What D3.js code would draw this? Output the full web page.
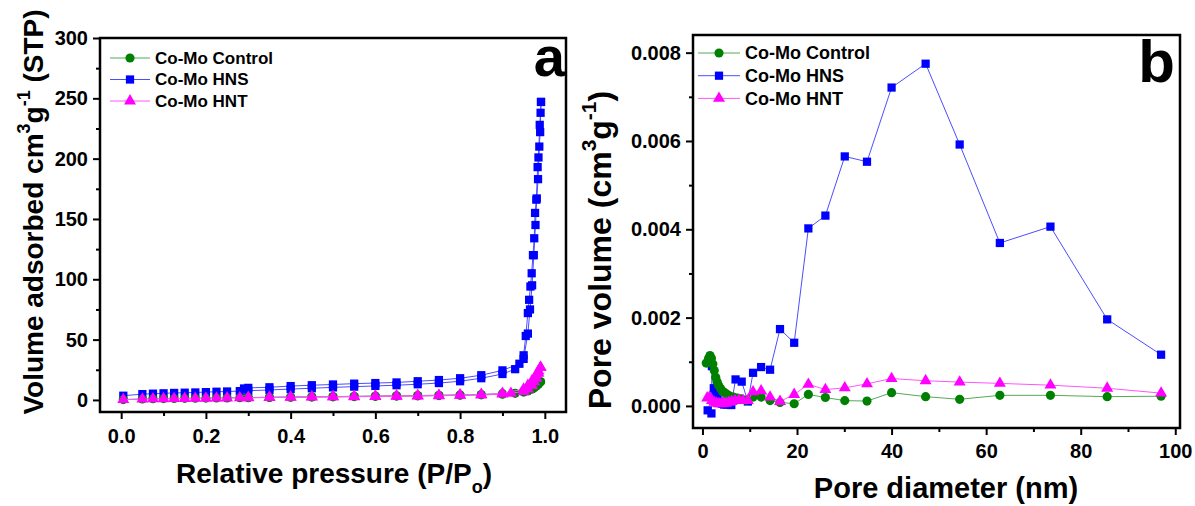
<!DOCTYPE html>
<html>
<head>
<meta charset="utf-8">
<script src="https://cdn.jsdelivr.net/npm/d3@7"></script>
<style>
  body { margin: 0; background: #fff; }
  svg text { font-family: "Liberation Sans", Arial, sans-serif; font-weight: bold; fill: #000; }
</style>
</head>
<body>
<script>
// ---------- Panel a: N2 isotherms ----------
const seriesNames = ["Co-Mo Control", "Co-Mo HNS", "Co-Mo HNT"];

const ctrlAdsP = [0.005, 0.05, 0.075, 0.1, 0.125, 0.15, 0.175, 0.2, 0.225, 0.25, 0.28, 0.3, 0.35, 0.4, 0.45, 0.5, 0.55, 0.6, 0.65, 0.7, 0.75, 0.8, 0.85, 0.9, 0.93, 0.95, 0.96, 0.97, 0.975, 0.98, 0.985, 0.99];
const ctrlAdsV = [0.3, 0.8, 1.0, 1.1, 1.2, 1.3, 1.4, 1.5, 1.6, 1.7, 1.8, 1.9, 2.1, 2.3, 2.5, 2.6, 2.8, 3.0, 3.2, 3.4, 3.6, 3.9, 4.2, 4.8, 5.5, 6.5, 7.5, 9, 10, 11.5, 13, 15];
const ctrlDesP = [0.99, 0.985, 0.98, 0.97, 0.96, 0.95, 0.9, 0.85, 0.8, 0.75, 0.7, 0.65, 0.6, 0.55, 0.5, 0.45, 0.4, 0.35, 0.3];
const ctrlDesV = [15, 14, 13, 11, 9, 7.5, 5.2, 4.5, 4.2, 3.9, 3.6, 3.4, 3.2, 3.0, 2.8, 2.6, 2.4, 2.2, 2.0];

const hnsAdsP = [0.005, 0.05, 0.075, 0.1, 0.125, 0.15, 0.175, 0.2, 0.225, 0.25, 0.28, 0.3, 0.35, 0.4, 0.45, 0.5, 0.55, 0.6, 0.65, 0.7, 0.75, 0.8, 0.85, 0.9, 0.93, 0.95, 0.96, 0.965, 0.97, 0.974, 0.978, 0.981, 0.984, 0.987, 0.989, 0.991];
const hnsAdsV = [3.5, 4.8, 5.2, 5.5, 5.8, 6.0, 6.2, 6.5, 6.8, 7.0, 7.3, 7.6, 8.3, 9.0, 9.7, 10.4, 11.0, 11.6, 12.2, 13.0, 14.0, 15.5, 18.0, 21.5, 25.5, 34, 55, 75, 95, 120, 145, 167, 183, 210, 222, 247];
const hnsDesP = [0.991, 0.99, 0.988, 0.985, 0.983, 0.98, 0.977, 0.975, 0.972, 0.969, 0.966, 0.963, 0.96, 0.955, 0.95, 0.94, 0.9, 0.85, 0.8, 0.75, 0.7, 0.65, 0.6, 0.55, 0.5, 0.45, 0.4, 0.35, 0.3, 0.29];
const hnsDesV = [247, 238, 228, 201, 193, 166, 155, 134, 120, 105, 94, 83, 72, 53, 37, 30, 24.5, 20.5, 18, 16.5, 15.5, 14.5, 14, 13.5, 12.8, 12.2, 11.5, 10.5, 10, 9.5];

const hntAdsP = [0.005, 0.05, 0.075, 0.1, 0.125, 0.15, 0.175, 0.2, 0.225, 0.25, 0.28, 0.3, 0.35, 0.4, 0.45, 0.5, 0.55, 0.6, 0.65, 0.7, 0.75, 0.8, 0.85, 0.9, 0.92, 0.95, 0.96, 0.97, 0.975, 0.98, 0.985, 0.99];
const hntAdsV = [0.3, 0.7, 0.9, 1.0, 1.1, 1.2, 1.3, 1.4, 1.5, 1.6, 1.7, 1.8, 2.0, 2.2, 2.4, 2.5, 2.7, 2.9, 3.1, 3.3, 3.5, 3.8, 4.1, 4.8, 5.5, 7, 9, 12, 15, 18, 22, 27];
const hntDesP = [0.99, 0.985, 0.98, 0.97, 0.96, 0.95, 0.9, 0.85, 0.8, 0.75, 0.7, 0.65, 0.6, 0.55, 0.5, 0.45, 0.4, 0.35, 0.3];
const hntDesV = [27, 24, 21, 16, 12, 9, 5.5, 4.5, 4.1, 3.8, 3.5, 3.3, 3.1, 2.9, 2.7, 2.5, 2.3, 2.1, 1.9];

const aXTicks = [0, 0.2, 0.4, 0.6, 0.8, 1.0];
const aXMinor = [0.1, 0.3, 0.5, 0.7, 0.9];
const aYTicks = [0, 50, 100, 150, 200, 250, 300];
const aYMinor = [25, 75, 125, 175, 225, 275];

// ---------- Panel b: pore size distribution ----------
const ctrlD = [0.8, 1.3, 1.6, 1.9, 2.2, 2.5, 2.8, 3.1, 3.4, 3.8, 4.2, 4.7, 5.2, 5.8, 6.5, 7.3, 8.2, 9.3, 10.7, 12.4, 14.3, 16.4, 19.4, 22.4, 26.0, 30.1, 34.8, 40.0, 47.2, 54.4, 62.9, 73.6, 85.6, 97.0];
const ctrlPV = [0.00097, 0.00108, 0.00114, 0.00108, 0.00095, 0.0008, 0.00065, 0.00055, 0.00047, 0.0004, 0.00034, 0.0003, 0.00026, 0.00022, 0.0002, 0.00018, 0.00016, 0.00013, 0.0002, 0.0002, 0.00012, 0.00008, 0.00005, 0.00026, 0.00019, 0.00012, 0.00011, 0.0003, 0.00021, 0.00015, 0.00024, 0.00024, 0.00021, 0.00022];

const hnsD = [1.1, 1.9, 2.0, 2.4, 2.8, 3.2, 3.6, 4.1, 4.6, 5.2, 6.1, 7.0, 8.3, 9.6, 10.7, 12.4, 14.3, 16.4, 19.4, 22.4, 26.0, 30.1, 34.8, 40.0, 47.2, 54.4, 62.9, 73.6, 85.6, 97.0];
const hnsPV = [-0.0001, -0.00017, 0.0009, 0.0004, 0.00025, 0.00015, 0.0001, 0.00005, 0.00003, 0.00003, 0.00002, 0.0006, 0.00055, 0.0001, 0.00075, 0.00088, 0.00082, 0.00174, 0.00143, 0.00402, 0.00431, 0.00565, 0.00553, 0.00721, 0.00775, 0.00592, 0.00369, 0.00406, 0.00196, 0.00116];

const hntD = [1.0, 1.5, 2.0, 2.5, 3.0, 3.5, 4.0, 4.5, 5.0, 5.6, 6.2, 6.9, 7.7, 8.6, 9.6, 10.7, 12.4, 14.3, 16.4, 19.4, 22.4, 26.0, 30.1, 34.8, 40.0, 47.2, 54.4, 62.9, 73.6, 85.6, 97.0];
const hntPV = [0.00018, 0.0002, 0.00012, 0.00008, 0.00006, 0.00005, 0.00005, 0.00006, 0.00006, 0.00008, 0.0001, 0.00012, 0.00013, 0.00012, 0.00012, 0.00032, 0.00034, 0.0002, 0.0001, 0.00026, 0.00049, 0.00037, 0.00041, 0.0005, 0.00062, 0.00057, 0.00054, 0.00051, 0.00047, 0.0004, 0.00029];

const bXTicks = [0, 20, 40, 60, 80, 100];
const bXMinor = [10, 30, 50, 70, 90];
const bYTicks = [0, 0.002, 0.004, 0.006, 0.008];
const bYMinor = [0.001, 0.003, 0.005, 0.007];

// ---------- styles ----------
const markerColor = { "Co-Mo Control": "#008000", "Co-Mo HNS": "#0000ff", "Co-Mo HNT": "#ff00ff" };
const lineColor = { "Co-Mo Control": "#55aa55", "Co-Mo HNS": "#4d4dff", "Co-Mo HNT": "#ff55ff" };
const symbolType = { "Co-Mo Control": d3.symbolCircle, "Co-Mo HNS": d3.symbolSquare, "Co-Mo HNT": d3.symbolTriangle };
const symbolSize = { "Co-Mo Control": 66, "Co-Mo HNS": 68, "Co-Mo HNT": 62 };

const zip = (xs, ys) => xs.map((v, i) => [v, ys[i]]);

const svg = d3.select("body").append("svg").attr("width", 1195).attr("height", 506);

function drawPanel(cfg) {
  const x = d3.scaleLinear().domain(cfg.xDomain).range(cfg.xRange);
  const y = d3.scaleLinear().domain(cfg.yDomain).range(cfg.yRange);
  const g = svg.append("g");

  const xAx = g.append("g").attr("transform", `translate(0,${cfg.yRange[0]})`)
    .call(d3.axisBottom(x).tickValues(cfg.xTicks).tickSize(7).tickPadding(cfg.xPad).tickFormat(cfg.xFmt));
  const xMin = g.append("g").attr("transform", `translate(0,${cfg.yRange[0]})`)
    .call(d3.axisBottom(x).tickValues(cfg.xMinor).tickSize(4).tickFormat(""));
  const yAx = g.append("g").attr("transform", `translate(${cfg.xRange[0]},0)`)
    .call(d3.axisLeft(y).tickValues(cfg.yTicks).tickSize(7).tickPadding(cfg.yPad).tickFormat(cfg.yFmt));
  const yMin = g.append("g").attr("transform", `translate(${cfg.xRange[0]},0)`)
    .call(d3.axisLeft(y).tickValues(cfg.yMinor).tickSize(4).tickFormat(""));
  [xAx, xMin, yAx, yMin].forEach(a => {
    a.select(".domain").remove();
    a.selectAll(".tick line").attr("stroke", "#000").attr("stroke-width", 2);
    a.selectAll(".tick text").style("font-size", "20px").style("font-weight", "bold")
      .attr("font-family", null);
  });

  const clipId = "clip" + cfg.id;
  svg.append("clipPath").attr("id", clipId).append("rect")
    .attr("x", cfg.xRange[0]).attr("y", cfg.yRange[1])
    .attr("width", cfg.xRange[1] - cfg.xRange[0]).attr("height", cfg.yRange[0] - cfg.yRange[1]);
  const plot = g.append("g").attr("clip-path", `url(#${clipId})`);
  const line = d3.line().x(d => x(d[0])).y(d => y(d[1]));
  cfg.series.forEach(s => {
    s.parts.forEach(pts => {
      plot.append("path").datum(pts).attr("d", line).attr("fill", "none")
        .attr("stroke", lineColor[s.name]).attr("stroke-width", 1);
    });
    s.parts.forEach(pts => {
      plot.selectAll(null).data(pts).enter().append("path")
        .attr("transform", d => `translate(${x(d[0])},${y(d[1])})`)
        .attr("d", d3.symbol().type(symbolType[s.name]).size(symbolSize[s.name]))
        .attr("fill", markerColor[s.name]);
    });
  });

  g.append("rect").attr("x", cfg.xRange[0]).attr("y", cfg.yRange[1])
    .attr("width", cfg.xRange[1] - cfg.xRange[0]).attr("height", cfg.yRange[0] - cfg.yRange[1])
    .attr("fill", "none").attr("stroke", "#000").attr("stroke-width", 2.5);

  seriesNames.forEach((n, i) => {
    const ly = cfg.legend.y + i * cfg.legend.dy;
    g.append("line").attr("x1", cfg.legend.x1).attr("x2", cfg.legend.x2).attr("y1", ly).attr("y2", ly)
      .attr("stroke", lineColor[n]).attr("stroke-width", 1);
    g.append("path").attr("transform", `translate(${(cfg.legend.x1 + cfg.legend.x2) / 2},${ly})`)
      .attr("d", d3.symbol().type(symbolType[n]).size(symbolSize[n])).attr("fill", markerColor[n]);
    g.append("text").attr("x", cfg.legend.tx).attr("y", ly).attr("dy", "0.35em")
      .style("font-size", cfg.legend.fs + "px").text(n);
  });

  g.append("text").attr("x", cfg.label.x).attr("y", cfg.label.y).attr("text-anchor", "end")
    .style("font-size", cfg.label.fs + "px").text(cfg.label.t);
  return { g, x, y };
}

const pa = drawPanel({
  id: "a",
  xDomain: [-0.05, 1.05], xRange: [100, 566],
  yDomain: [-10, 300], yRange: [412, 38],
  xTicks: aXTicks, xMinor: aXMinor, yTicks: aYTicks, yMinor: aYMinor,
  xFmt: d3.format(".1f"), yFmt: d3.format("d"), xPad: 10, yPad: 5,
  series: [
    { name: "Co-Mo HNS", parts: [zip(hnsAdsP, hnsAdsV), zip(hnsDesP, hnsDesV)] },
    { name: "Co-Mo Control", parts: [zip(ctrlAdsP, ctrlAdsV), zip(ctrlDesP, ctrlDesV)] },
    { name: "Co-Mo HNT", parts: [zip(hntAdsP, hntAdsV), zip(hntDesP, hntDesV)] }
  ],
  legend: { x1: 110, x2: 150, tx: 155, y: 58, dy: 21.5, fs: 17 },
  label: { x: 565, y: 76, fs: 56, t: "a" }
});

const pb = drawPanel({
  id: "b",
  xDomain: [-2, 101], xRange: [693, 1180],
  yDomain: [-0.0005, 0.0084], yRange: [428, 35],
  xTicks: bXTicks, xMinor: bXMinor, yTicks: bYTicks, yMinor: bYMinor,
  xFmt: d3.format("d"), yFmt: d3.format(".3f"), xPad: 9, yPad: 5,
  series: [
    { name: "Co-Mo HNS", parts: [zip(hnsD, hnsPV)] },
    { name: "Co-Mo Control", parts: [zip(ctrlD, ctrlPV)] },
    { name: "Co-Mo HNT", parts: [zip(hntD, hntPV)] }
  ],
  legend: { x1: 698, x2: 740, tx: 745, y: 53, dy: 22.7, fs: 18 },
  label: { x: 1175, y: 82, fs: 60, t: "b" }
});

const ta = svg.append("text").attr("transform", "translate(43,212) rotate(-90)")
  .attr("text-anchor", "middle").style("font-size", "28px");
ta.append("tspan").text("Volume adsorbed cm");
ta.append("tspan").attr("dy", -13).style("font-size", "18px").text("3");
ta.append("tspan").attr("dy", 13).text("g");
ta.append("tspan").attr("dy", -13).style("font-size", "18px").text("-1");
ta.append("tspan").attr("dy", 13).text(" (STP)");

const xa = svg.append("text").attr("x", 334).attr("y", 483).attr("text-anchor", "middle").style("font-size", "28px");
xa.append("tspan").text("Relative pressure (P/P");
xa.append("tspan").attr("dy", 10).style("font-size", "18px").text("o");
xa.append("tspan").attr("dy", -10).text(")");

const tb = svg.append("text").attr("transform", "translate(611,250) rotate(-90)")
  .attr("text-anchor", "middle").style("font-size", "32px");
tb.append("tspan").text("Pore volume (cm");
tb.append("tspan").attr("dy", -15).style("font-size", "21px").text("3");
tb.append("tspan").attr("dy", 15).text("g");
tb.append("tspan").attr("dy", -15).style("font-size", "21px").text("-1");
tb.append("tspan").attr("dy", 15).text(")");

svg.append("text").attr("x", 946).attr("y", 498).attr("text-anchor", "middle").style("font-size", "29px")
  .text("Pore diameter (nm)");
</script>
</body>
</html>
